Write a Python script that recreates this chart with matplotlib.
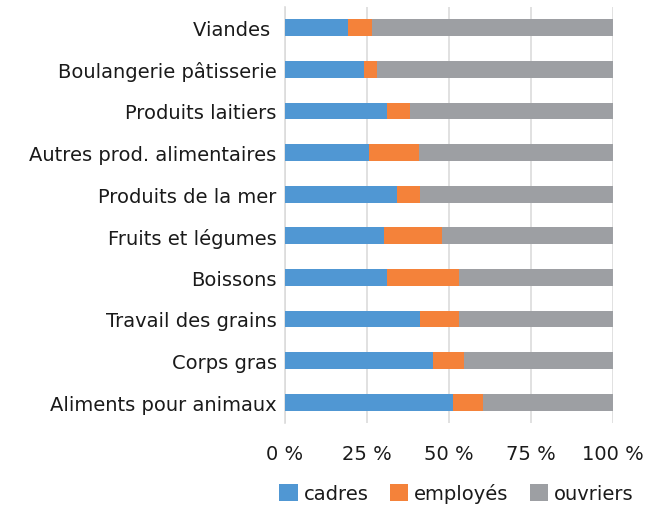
import numpy as np
import matplotlib.pyplot as plt

# Categories (top to bottom as shown)
categories = ['Viandes ', 'Boulangerie pâtisserie', 'Produits laitiers',
              'Autres prod. alimentaires', 'Produits de la mer',
              'Fruits et légumes', 'Boissons', 'Travail des grains',
              'Corps gras', 'Aliments pour animaux']

# Shares in %
cadres = [19.3, 24.1, 31.1, 25.7, 34.1, 30.3, 31.1, 41.3, 45.1, 51.2]
employes = [7.3, 3.9, 6.9, 15.2, 7.2, 17.5, 22.0, 11.8, 9.6, 9.2]
ouvriers = [100 - c - e for c, e in zip(cadres, employes)]

xticks = [0, 25, 50, 75, 100]
xticklabels = ['0 %', '25 %', '50 %', '75 %', '100 %']

col_cadres = '#5097D3'
col_employes = '#F4823A'
col_ouvriers = '#9D9FA3'

plt.rcParams['font.family'] = ['DejaVu Sans']

fig = plt.figure(figsize=(6.52, 5.06), dpi=100)
ax = fig.add_axes([285 / 652, 1 - 424 / 506, 328 / 652, 416 / 506])

y = np.arange(len(categories))
left2 = np.array(cadres)
left3 = left2 + np.array(employes)
ax.barh(y, cadres, height=0.4, color=col_cadres, label='cadres', zorder=3)
ax.barh(y, employes, left=left2, height=0.4, color=col_employes, label='employés', zorder=3)
ax.barh(y, ouvriers, left=left3, height=0.4, color=col_ouvriers, label='ouvriers', zorder=3)

ax.set_ylim(len(categories) - 0.5, -0.5)
ax.set_xlim(0, 100)
ax.set_yticks(y)
ax.set_yticklabels(categories, fontsize=14, color='#1a1a1a')
ax.set_xticks(xticks)
ax.set_xticklabels(xticklabels, fontsize=14, color='#1a1a1a')

ax.grid(axis='x', color='#DCDCDC', linewidth=1.2, zorder=0)
for s in ['top', 'right', 'bottom']:
    ax.spines[s].set_visible(False)
ax.spines['left'].set_color('#DCDCDC')
ax.spines['left'].set_linewidth(1.2)
ax.tick_params(axis='y', length=0, pad=6)
ax.tick_params(axis='x', length=0, pad=15)

fig.legend(loc='center', bbox_to_anchor=(0.70, 1 - 494 / 506), ncol=3, frameon=False,
           fontsize=14, handlelength=0.95, handleheight=0.95, handletextpad=0.3,
           columnspacing=1.1, labelcolor='#1a1a1a')

plt.savefig('out.png', dpi=100)
